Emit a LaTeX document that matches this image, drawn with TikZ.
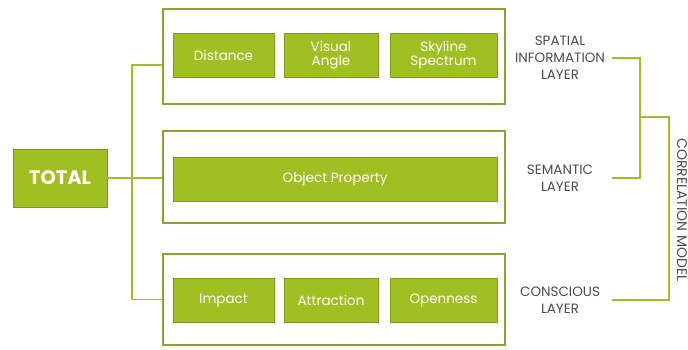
\documentclass[tikz,border=0pt]{standalone}
\usepackage{fontspec}
\setmainfont{Poppins}
\usetikzlibrary{positioning}
\definecolor{leaf}{RGB}{160,191,32}
\definecolor{rim}{RGB}{136,164,52}
\begin{document}
\begin{tikzpicture}[x=1pt,y=-1pt,
    cell/.style={fill=leaf,draw=leaf!80!black,line width=.6pt,text=white,align=center,
      inner sep=0pt,minimum height=44pt,font=\fontsize{13.5}{14}\selectfont},
    frame/.style={draw=rim,line width=1.8pt,minimum width=342pt,inner sep=0pt},
    wire/.style={draw=leaf,line width=1.8pt},
    tag/.style={text=black!70,align=center,text width=104pt,inner sep=0pt,
      font=\fontsize{13.5}{17}\selectfont}]
  \useasboundingbox (0,0) rectangle (688,349);
  % layer frames
  \node[frame,minimum height=95pt] (top) at (334,56.5) {};
  \node[frame,minimum height=92pt] (mid) at (334,177) {};
  \node[frame,minimum height=91pt] (bot) at (334,299.5) {};
  % factors
  \node[cell,minimum width=101pt] (dist) at (223.5,55.5) {Distance};
  \node[cell,minimum width=94pt] (angle) at (331,55.5) {Visual\\Angle};
  \node[cell,minimum width=107pt] (sky) at (443.5,55.5) {Skyline\\Spectrum};
  \node[cell,minimum width=324pt] (prop) at (335,179) {Object Property};
  \node[cell,minimum width=101pt] (impact) at (223.5,300.5) {Impact};
  \node[cell,minimum width=94pt] (attr) at (331,300.5) {Attraction};
  \node[cell,minimum width=107pt] (open) at (443.5,300.5) {Openness};
  \node[cell,minimum width=94pt,minimum height=58pt,
    font=\fontsize{19.5}{21}\selectfont\bfseries] (total) at (60,178) {TOTAL};
  % tree on the left
  \coordinate (bus) at (132,0);
  \draw[wire] ([yshift=-8.5pt]top.west) -| (bus |- bot.west) -- (bot.west);
  \draw[wire] (total.east) -- (total.east -| mid.west);
  % layer names
  \node[tag] (spatial) at (560,58) {SPATIAL\\INFORMATION\\LAYER};
  \node[tag] (semantic) at (560,178) {SEMANTIC\\LAYER};
  \node[tag] (conscious) at (560,300) {CONSCIOUS\\LAYER};
  \coordinate (fork) at (640,117);
  \coordinate (hub) at (669,117);
  \draw[wire] (spatial.east) -| (fork) |- (semantic.east);
  \draw[wire] (fork) -- (hub) |- (conscious.east);
  \node[text=black!70,rotate=-90,inner sep=0pt,font=\fontsize{14}{15}\selectfont]
    (model) at (682,210) {CORRELATION MODEL};
\end{tikzpicture}
\end{document}
